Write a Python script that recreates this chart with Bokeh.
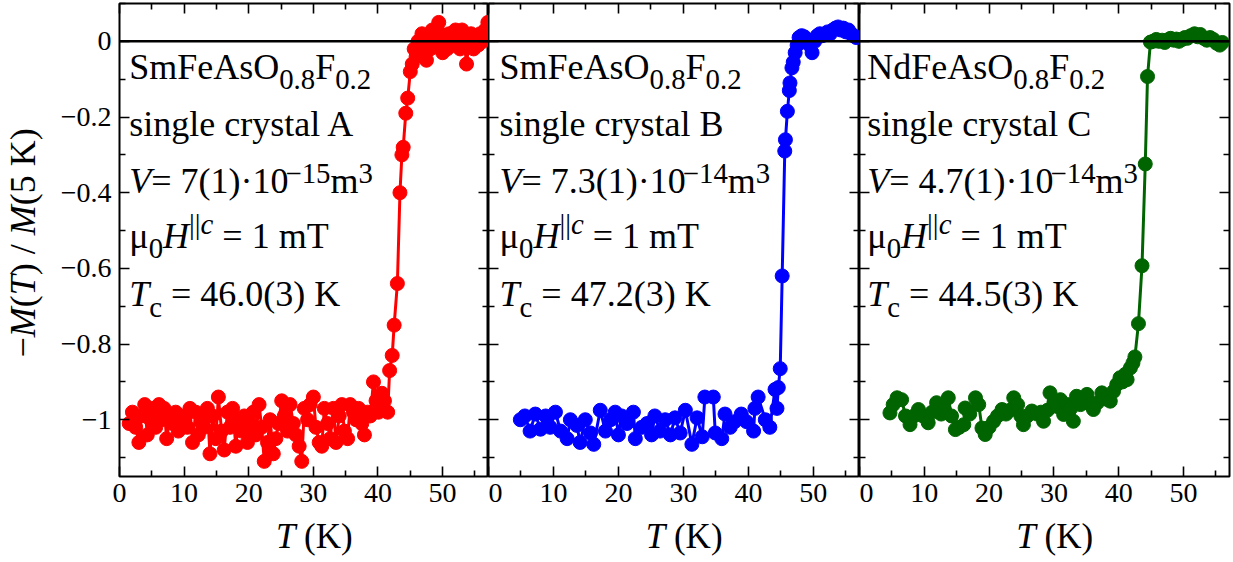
import math
from bokeh.plotting import figure
from bokeh.models import Range1d, LinearAxis, FixedTicker, CustomJSTickFormatter, Label, Span
from bokeh.layouts import row, column
from bokeh.embed import file_html
from bokeh.resources import INLINE

# ---------------- data ----------------
T_A = [1.5, 2.0, 2.5, 3.0, 3.4, 3.9, 4.3, 4.8, 5.2, 5.6, 6.1, 6.5, 6.9, 7.3, 7.8, 8.2, 8.7, 9.1, 9.6, 10.0,
       10.5, 10.9, 11.3, 11.8, 12.2, 12.7, 13.1, 13.6, 14.0, 14.4, 14.9, 15.3, 15.8, 16.2, 16.7, 17.1, 17.5,
       18.0, 18.4, 18.9, 19.3, 19.8, 20.2, 20.7, 21.1, 21.6, 22.0, 22.4, 22.9, 23.3, 23.8, 24.2, 24.6, 25.1,
       25.5, 26.0, 26.4, 26.9, 27.3, 27.8, 28.2, 28.6, 29.1, 29.5, 30.0, 30.4, 30.9, 31.3, 31.7, 32.2, 32.6,
       33.1, 33.5, 34.0, 34.4, 34.8, 35.3, 35.7, 36.2, 36.6, 37.0, 37.5, 37.9, 38.4, 38.8, 39.3, 39.7, 40.1,
       40.6, 41.0, 41.5, 41.8, 42.2, 42.5, 43.0, 43.4, 43.7, 43.9, 44.3, 44.6, 45.0, 45.3, 45.6, 45.9, 46.2,
       46.5, 46.8, 47.1, 47.5, 47.8, 48.1, 48.4, 48.8, 49.1, 49.4, 49.7, 50.0, 50.4, 50.7, 51.0, 51.4, 51.7,
       52.0, 52.4, 52.7, 53.0, 53.4, 53.7, 54.1, 54.4, 54.8, 55.1, 55.5, 55.8, 56.2, 56.6, 57.0]
M_A = [-1.01, -0.98, -1.02, -1.06, -0.99, -0.96, -1.04, -1.00, -0.97, -1.02, -0.96, -1.00, -0.97, -1.05,
       -0.99, -1.01, -0.98, -1.03, -1.00, -0.99, -1.02, -0.97, -1.06, -0.98, -1.04, -1.00, -1.02, -0.97,
       -1.09, -0.99, -1.05, -0.94, -1.03, -1.08, -0.98, -1.02, -0.97, -1.07, -1.00, -1.03, -0.99, -1.06,
       -1.01, -0.98, -1.04, -0.96, -1.02, -1.11, -1.06, -1.00, -1.09, -1.05, -1.01, -0.95, -0.99, -1.03,
       -0.96, -1.01, -1.04, -1.07, -1.11, -0.97, -1.00, -0.96, -0.94, -1.02, -1.06, -1.07, -0.97, -1.01,
       -1.05, -0.97, -1.06, -0.99, -0.96, -1.03, -1.05, -0.96, -0.98, -1.00, -0.97, -1.01, -1.04, -0.98,
       -0.99, -0.90, -0.95, -0.98, -0.93, -0.95, -0.98, -0.87, -0.83, -0.75, -0.64, -0.40, -0.30, -0.28,
       -0.19, -0.15, -0.08, -0.06, -0.02, -0.04, 0.00, -0.03, 0.02, -0.01, -0.05, 0.01, -0.02, 0.03, -0.01,
       0.00, 0.05, 0.02, -0.03, 0.01, -0.02, 0.02, 0.00, -0.01, 0.03, 0.01, -0.02, 0.03, -0.01, -0.06, 0.00,
       0.02, -0.02, 0.01, -0.01, 0.02, 0.00, 0.03, 0.05]

T_B = [4.9, 5.6, 6.4, 7.2, 8.0, 8.8, 9.5, 10.3, 11.1, 12.1, 12.6, 13.6, 14.1, 14.9, 15.7, 16.2, 17.2, 18.0,
       18.8, 19.5, 20.0, 20.5, 21.3, 22.3, 22.6, 23.6, 24.4, 25.1, 25.6, 26.4, 27.2, 28.0, 28.7, 29.5, 30.3,
       31.3, 32.1, 32.9, 33.3, 34.6, 34.9, 35.9, 36.4, 37.2, 37.9, 38.9, 39.7, 40.8, 41.0, 41.5, 42.6, 43.3,
       44.1, 44.4, 44.6, 44.9, 45.2, 45.6, 45.7, 46.0, 46.3, 46.4, 46.7, 46.9, 47.2, 47.5, 47.8, 48.2, 48.6,
       49.0, 49.4, 49.8, 50.2, 50.6, 51.0, 51.4, 51.8, 52.2, 52.6, 53.0, 53.4, 53.8, 54.2, 54.6, 55.0, 55.4,
       55.8, 56.2, 56.6]
M_B = [-1.00, -0.99, -1.03, -0.985, -1.025, -0.99, -1.02, -0.98, -1.03, -1.05, -1.00, -1.015, -1.06, -1.00,
       -1.035, -1.065, -0.975, -1.03, -1.00, -0.98, -1.04, -0.99, -1.01, -0.98, -1.05, -1.02, -1.01, -1.04,
       -0.99, -1.03, -1.00, -1.04, -0.995, -1.035, -0.975, -1.065, -0.995, -1.045, -0.94, -0.94, -1.035,
       -1.05, -0.985, -1.02, -1.005, -0.985, -1.005, -1.03, -0.97, -0.94, -1.00, -1.02, -0.92, -0.97, -0.915,
       -0.865, -0.62, -0.29, -0.26, -0.185, -0.13, -0.11, -0.07, -0.055, -0.03, -0.01, 0.01, 0.015, 0.012,
       0.005, -0.01, -0.03, 0.0, 0.015, 0.02, 0.015, 0.02, 0.025, 0.02, 0.03, 0.035, 0.038, 0.03, 0.035, 0.025,
       0.03, 0.02, 0.015, 0.01]

T_C = [4.7, 5.2, 5.8, 6.5, 7.1, 7.8, 8.4, 9.1, 9.8, 10.6, 11.2, 11.9, 12.6, 13.1, 13.7, 14.2, 14.8, 15.4,
       16.1, 16.3, 17.0, 17.9, 18.4, 18.9, 19.4, 20.0, 20.7, 21.3, 22.0, 22.6, 23.2, 23.8, 24.4, 24.9, 25.3,
       25.9, 26.6, 27.4, 28.0, 28.4, 29.0, 29.4, 30.0, 30.5, 31.0, 31.5, 32.1, 32.6, 33.0, 33.5, 34.1, 34.6,
       35.1, 35.6, 36.1, 36.7, 37.4, 37.9, 38.4, 38.7, 39.2, 39.7, 40.2, 40.6, 41.0, 41.3, 41.8, 42.2, 42.5,
       43.05, 43.6, 44.1, 44.45, 44.9, 45.3, 45.8, 46.2, 46.7, 47.1, 47.6, 48.0, 48.5, 48.9, 49.3, 49.8, 50.2,
       50.6, 51.1, 51.7, 52.2, 52.6, 53.1, 53.6, 54.1, 54.6, 55.1, 55.6, 56.0]
M_C = [-0.982, -0.96, -0.942, -0.947, -0.99, -1.013, -0.99, -0.973, -0.99, -1.008, -0.98, -0.955, -0.985,
       -0.975, -0.942, -0.99, -1.026, -1.02, -1.013, -0.969, -0.985, -0.942, -0.96, -1.022, -1.039, -1.02,
       -1.004, -0.99, -0.973, -0.985, -0.975, -0.942, -0.96, -0.99, -1.013, -0.99, -0.977, -0.985, -0.98,
       -1.004, -0.975, -0.929, -0.955, -0.965, -0.947, -0.986, -0.96, -0.97, -1.004, -0.938, -0.96, -0.95,
       -0.933, -0.96, -0.973, -0.955, -0.929, -0.945, -0.94, -0.951, -0.925, -0.907, -0.889, -0.90, -0.88,
       -0.894, -0.863, -0.85, -0.834, -0.746, -0.593, -0.324, -0.093, -0.002, 0.0, 0.005, 0.0, 0.003, -0.003,
       0.004, 0.008, 0.003, 0.006, 0.0, 0.005, 0.01, 0.008, 0.015, 0.02, 0.012, 0.018, 0.008, 0.003, 0.01,
       0.005, -0.005, -0.01, -0.003]

COMPOUNDS = ["SmFeAsO", "SmFeAsO", "NdFeAsO"]
CRYSTALS = ["single crystal A", "single crystal B", "single crystal C"]
VOLUMES = ["7(1)", "7.3(1)", "4.7(1)"]
VOL_EXP = ["\u221215", "\u221214", "\u221214"]
TC_TEXT = ["46.0(3)", "47.2(3)", "44.5(3)"]
COLORS = ["#ff0000", "#0000ff", "#006400"]

X_MAJOR = [0, 10, 20, 30, 40, 50]
X_MINOR = [5, 15, 25, 35, 45, 55]
Y_MAJOR = [0, -0.2, -0.4, -0.6, -0.8, -1.0]
Y_MINOR = [0.1, -0.1, -0.3, -0.5, -0.7, -0.9, -1.1]
X_END = 57.1
Y_LO, Y_HI = -1.15, 0.10

# ---------------- text helpers ----------------
FONT = "Liberation Serif"
W_R = {' ': 250, '(': 333, ')': 333, '.': 250, '\u00b7': 250, '/': 278, '=': 564, '\u2212': 564, '|': 200,
       'A': 722, 'B': 667, 'C': 667, 'F': 556, 'K': 722, 'M': 889, 'N': 722, 'O': 722, 'S': 556, 'T': 611,
       'a': 444, 'c': 444, 'd': 500, 'e': 444, 'g': 500, 'i': 278, 'l': 278, 'm': 778, 'n': 500, 'r': 333,
       's': 389, 't': 278, 'y': 500, '\u03bc': 540}
W_I = {'V': 611, 'H': 722, 'T': 556, 'M': 833, 'c': 444}
BASE_SHIFT = 0.47   # rendered baseline sits this many em below the anchor; compensate


def tw(s, style):
    tab = W_I if style == "italic" else W_R
    return sum(tab.get(ch, W_R.get(ch, 500)) for ch in s) / 1000.0


def rich(p, x, y, segs, size=36, x_off=0.0, y_off=0.0, angle=0.0):
    off = 0.0
    for txt, style, scale, dy in segs:
        fs = size * scale
        lead = len(txt) - len(txt.lstrip(" "))
        off += lead * 0.25 * fs
        body = txt.lstrip(" ")
        d = dy + BASE_SHIFT * fs
        if angle == 0.0:
            xo, yo = x_off + off, y_off + d
        else:
            xo, yo = x_off - d, y_off + off
        p.add_layout(Label(x=x, y=y, x_offset=xo, y_offset=yo,
                           text=body, angle=angle,
                           text_font=FONT, text_font_size="%.1fpx" % fs, text_font_style=style,
                           text_align="left", text_baseline="alphabetic", text_color="black"))
        off += tw(body, style) * fs


def hidden(ax):
    ax.formatter = CustomJSTickFormatter(code="return '';")
    ax.major_label_text_font_size = "0px"
    ax.major_label_standoff = 0


def style_axis(ax, ticker):
    ax.ticker = ticker
    ax.major_tick_in = 10
    ax.major_tick_out = 0
    ax.minor_tick_in = 6
    ax.minor_tick_out = 0
    ax.major_tick_line_width = 1.6
    ax.minor_tick_line_width = 1.6
    ax.major_tick_line_color = "black"
    ax.minor_tick_line_color = "black"
    ax.axis_line_color = None
    ax.major_label_text_font = FONT
    ax.major_label_text_font_size = "28px"
    ax.major_label_text_color = "black"


def blank_fig(w, h, fw, fh):
    # strip without axes; data units == pixels from the frame's bottom-left corner
    f = figure(width=w, height=h, x_range=Range1d(0, fw), y_range=Range1d(0, fh), title=None,
               output_backend="svg", toolbar_location=None,
               x_axis_location=None, y_axis_location=None,
               min_border_left=0, min_border_right=0, min_border_top=0, min_border_bottom=0,
               background_fill_color="white", border_fill_color="white", outline_line_color=None)
    f.grid.grid_line_color = None
    return f


Y_FMT = ("if (Math.abs(tick) < 1e-9) return '0';"
         "var s = Math.abs(tick).toFixed(1); if (s == '1.0') s = '1';"
         "return (tick < 0 ? '\u2212' : '') + s;")

YLAB_W = 55
BORDER_L = 64
FRAME_W = [369, 371, 370]
FRAME_H = 473
TOP = 3
BOTTOM = 41
PANEL_H = TOP + FRAME_H + BOTTOM
XLAB_H = 562 - PANEL_H
TEXT_X = [1.5, 1.7, 1.2]

panels = []
data = [(T_A, M_A), (T_B, M_B), (T_C, M_C)]
for i in range(3):
    first, last = i == 0, i == 2
    bl = BORDER_L if first else 0
    br = 2 if last else 0
    p = figure(width=bl + FRAME_W[i] + br, height=PANEL_H, title=None,
               x_range=Range1d(0, X_END), y_range=Range1d(Y_LO, Y_HI),
               output_backend="svg", toolbar_location=None,
               x_axis_location=None, y_axis_location=None,
               min_border_left=bl, min_border_right=br,
               min_border_top=TOP, min_border_bottom=BOTTOM,
               background_fill_color="white", border_fill_color="white",
               outline_line_color="black", outline_line_width=2)
    p.grid.grid_line_color = None

    xt = FixedTicker(ticks=X_MAJOR, minor_ticks=X_MINOR)
    yt = FixedTicker(ticks=Y_MAJOR, minor_ticks=Y_MINOR)

    bottom = LinearAxis()
    style_axis(bottom, xt)
    bottom.major_label_standoff = 7
    p.add_layout(bottom, "below")

    top = LinearAxis()
    style_axis(top, xt)
    hidden(top)
    p.add_layout(top, "above")

    left = LinearAxis()
    style_axis(left, yt)
    if first:
        left.formatter = CustomJSTickFormatter(code=Y_FMT)
        left.major_label_standoff = 8
    else:
        hidden(left)
    p.add_layout(left, "left")

    right = LinearAxis()
    style_axis(right, yt)
    hidden(right)
    p.add_layout(right, "right")

    T, M = data[i]
    p.line(T, M, line_color=COLORS[i], line_width=3)
    p.scatter(T, M, size=14, fill_color=COLORS[i], line_color=COLORS[i])

    p.add_layout(Span(location=0, dimension="width", line_color="black", line_width=2.5))

    x0 = TEXT_X[i]
    rich(p, x0, -0.112, [(COMPOUNDS[i], "normal", 1, 0), ("0.8", "normal", 0.8, -9),
                         ("F", "normal", 1, 0), ("0.2", "normal", 0.8, -9)])
    rich(p, x0, -0.263, [(CRYSTALS[i], "normal", 1, 0)])
    rich(p, x0, -0.414, [("V", "italic", 1, 0), ("= " + VOLUMES[i] + "\u00b710", "normal", 1, 0),
                         (VOL_EXP[i], "normal", 0.8, 11), ("m", "normal", 1, 0), ("3", "normal", 0.8, 11)])
    rich(p, x0, -0.560, [("\u03bc", "normal", 1, 0), ("0", "normal", 0.8, -9), ("H", "italic", 1, 0),
                         ("||", "normal", 0.8, 16), ("c", "italic", 0.8, 16), (" = 1 mT", "normal", 1, 0)])
    rich(p, x0, -0.713, [("T", "italic", 1, 0), ("c", "normal", 0.8, -9),
                         (" = " + TC_TEXT[i] + " K", "normal", 1, 0)])
    panels.append(p)

# y-axis label strip: inside a row its frame is aligned to the panels' frames
ylab = blank_fig(YLAB_W, PANEL_H, YLAB_W, FRAME_H)
rich(ylab, 39, 119, [("\u2212", "normal", 1, 0), ("M", "italic", 1, 0), ("(", "normal", 1, 0),
                     ("T", "italic", 1, 0), (")", "normal", 1, 0), (" / ", "normal", 1, 0),
                     ("M", "italic", 1, 0), ("(5 K)", "normal", 1, 0)],
     angle=math.pi / 2)

# x-axis label strip below the panels
total_w = YLAB_W + BORDER_L + sum(FRAME_W) + 2
xlab = blank_fig(total_w, XLAB_H, total_w, XLAB_H)
left_edge = YLAB_W + BORDER_L
for i in range(3):
    xs = left_edge + 24.2 * FRAME_W[i] / X_END
    rich(xlab, xs, 10, [("T", "italic", 1, 0), (" (K)", "normal", 1, 0)], size=35)
    left_edge += FRAME_W[i]

layout = column(row(ylab, *panels), xlab)
open("out.html", "w").write(file_html(layout, INLINE))
